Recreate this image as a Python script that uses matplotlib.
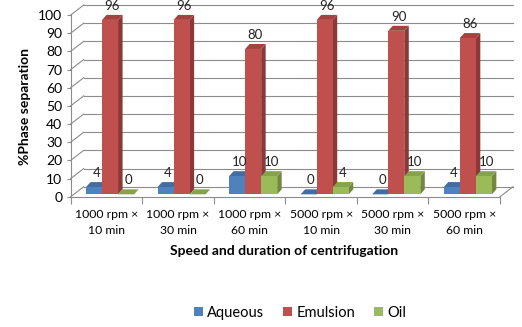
import matplotlib
matplotlib.use("Agg")
import matplotlib.pyplot as plt
from matplotlib.patches import Polygon, Patch

plt.rcParams["font.family"] = ["Lato", "DejaVu Sans"]

# --- data ---
categories = ["1000 rpm ×\n10 min", "1000 rpm ×\n30 min", "1000 rpm ×\n60 min",
              "5000 rpm ×\n10 min", "5000 rpm ×\n30 min", "5000 rpm ×\n60 min"]
series = ["Aqueous", "Emulsion", "Oil"]
aqueous = [4, 4, 10, 0, 0, 4]
emulsion = [96, 96, 80, 96, 90, 86]
oil = [0, 0, 10, 4, 10, 10]
values = [aqueous, emulsion, oil]
yticks = list(range(0, 101, 10))

# excel-like colours: front, side, top
FRONT = ["#4F81BD", "#C0504D", "#9BBB59"]
SIDE = ["#385D8A", "#8C3836", "#71893F"]
TOP = ["#426DA0", "#A5423F", "#85A24C"]
GRID = "#8C8C8C"

# pseudo-3d geometry (category units / value units)
W = 0.224           # bar width
DX, DY = 0.182, 5.5  # floor depth
BX, BY = 0.05, 1.3   # bar front offset into depth
DDX, DDY = 0.063, 2.75  # bar depth

W_PX, H_PX = 522, 327
fig = plt.figure(figsize=(W_PX / 100, H_PX / 100), dpi=100)
left_px, right_px = 70.7, 515
y0_px, ytop_px = 196.7, 4
ax = fig.add_axes([left_px / W_PX, 1 - y0_px / H_PX,
                   (right_px - left_px) / W_PX, (y0_px - ytop_px) / H_PX])
ax.set_xlim(-0.5, -0.5 + (right_px - left_px) / 71.55)
ax.set_ylim(0, (y0_px - ytop_px) / 1.817)
ax.patch.set_visible(False)

n = len(categories)
xa, xb = -0.5, n - 0.5

# back wall gridlines + side wall diagonals + floor
for v in yticks:
    ax.plot([xa + DX, xb + DX], [v + DY, v + DY], color=GRID, lw=0.8, clip_on=False, zorder=1)
    ax.plot([xa, xa + DX], [v, v + DY], color=GRID, lw=0.8, clip_on=False, zorder=1)
ax.plot([xb, xb + DX], [0, DY], color=GRID, lw=0.8, clip_on=False, zorder=1)

# bars
z = 2
for i in range(n):
    for j in range(3):
        v = values[j][i]
        x0 = i - 1.5 * W + j * W + BX
        side = Polygon([(x0 + W, BY), (x0 + W + DDX, BY + DDY),
                        (x0 + W + DDX, v + BY + DDY), (x0 + W, v + BY)],
                       closed=True, facecolor=SIDE[j], edgecolor="none", zorder=z, clip_on=False)
        top = Polygon([(x0, v + BY), (x0 + W, v + BY), (x0 + W + DDX, v + BY + DDY),
                       (x0 + DDX, v + BY + DDY)],
                      closed=True, facecolor=TOP[j], edgecolor="none", zorder=z, clip_on=False)
        ax.add_patch(side)
        ax.add_patch(top)
        ax.bar(x0, v, width=W, bottom=BY, align="edge", color=FRONT[j], zorder=z, clip_on=False)
        ax.text(x0 + W / 2 + DDX / 2, v + BY + DDY + 5, f"{v}", ha="center", va="center",
                fontsize=9.5, color="#222222", zorder=20)
        z += 1

# axes styling
for s in ["top", "right"]:
    ax.spines[s].set_visible(False)
ax.spines["left"].set_bounds(0, 100)
ax.spines["bottom"].set_bounds(xa, xb)
ax.spines["left"].set_color(GRID)
ax.spines["bottom"].set_color(GRID)
ax.spines["left"].set_linewidth(0.8)
ax.spines["bottom"].set_linewidth(0.8)
ax.set_yticks(yticks)
ax.tick_params(axis="y", length=3, color=GRID, labelsize=10, pad=3)
ax.set_xticks([k - 0.5 for k in range(n + 1)])
ax.set_xticklabels([])
ax.tick_params(axis="x", which="major", length=5, color=GRID)
ax.set_xticks(range(n), minor=True)
ax.set_xticklabels(categories, minor=True, fontsize=8.8, linespacing=1.55)
ax.tick_params(axis="x", which="minor", length=0, pad=9)

ax.set_ylabel("%Phase separation", fontsize=10, fontweight="bold")
ax.yaxis.set_label_coords(-0.09, 0.47)
fig.text(284 / W_PX, 1 - 251 / H_PX, "Speed and duration of centrifugation",
         ha="center", va="center", fontsize=10, fontweight="bold")

handles = [Patch(facecolor=FRONT[j], label=series[j]) for j in range(3)]
fig.legend(handles=handles, loc="center", bbox_to_anchor=(300 / W_PX, 1 - 313 / H_PX),
           ncol=3, frameon=False, fontsize=10.5, handlelength=0.6, handleheight=0.6,
           handletextpad=0.3, columnspacing=1.3)

fig.savefig("out.png", dpi=100)
